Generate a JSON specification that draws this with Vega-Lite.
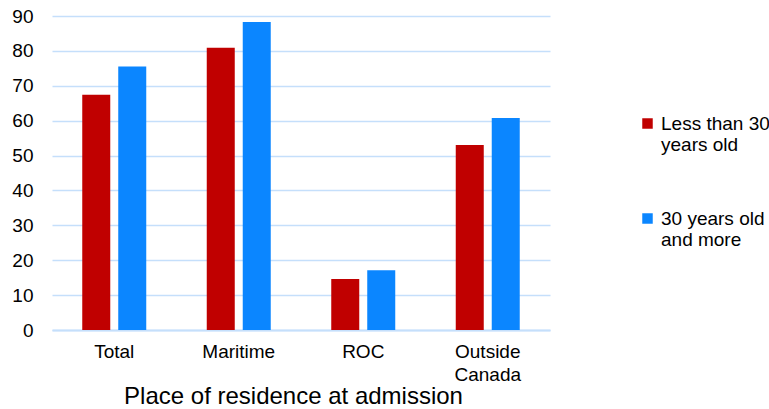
{
  "$schema": "https://vega.github.io/schema/vega-lite/v6.json",
  "width": 498,
  "height": 314,
  "autosize": {"type": "none"},
  "padding": {"left": 52, "top": 16, "right": 219, "bottom": 79},
  "background": "white",
  "config": {
    "font": "Liberation Sans",
    "view": {"stroke": null}
  },
  "data": {
    "values": [
      {"place": "Total", "age": "Less than 30 years old", "pct": 67.4},
      {"place": "Total", "age": "30 years old and more", "pct": 75.5},
      {"place": "Maritime", "age": "Less than 30 years old", "pct": 80.9},
      {"place": "Maritime", "age": "30 years old and more", "pct": 88.3},
      {"place": "ROC", "age": "Less than 30 years old", "pct": 14.6},
      {"place": "ROC", "age": "30 years old and more", "pct": 17.1},
      {"place": "Outside Canada", "age": "Less than 30 years old", "pct": 53.0},
      {"place": "Outside Canada", "age": "30 years old and more", "pct": 60.8}
    ]
  },
  "mark": {"type": "bar"},
  "encoding": {
    "x": {
      "field": "place",
      "type": "nominal",
      "sort": ["Total", "Maritime", "ROC", "Outside Canada"],
      "scale": {"paddingInner": 0.486, "paddingOuter": 0.243},
      "axis": {
        "title": "Place of residence at admission",
        "titleFontSize": 24,
        "titleFontWeight": "normal",
        "titleColor": "#000000",
        "titleX": 241,
        "titlePadding": 0,
        "labelAngle": 0,
        "labelFontSize": 19,
        "labelColor": "#000000",
        "labelPadding": 12,
        "labelLineHeight": 23,
        "labelExpr": "datum.label == 'Outside Canada' ? ['Outside', 'Canada'] : datum.label",
        "ticks": false,
        "domainColor": "#C5DFFB",
        "domainWidth": 2
      }
    },
    "xOffset": {
      "field": "age",
      "type": "nominal",
      "sort": ["Less than 30 years old", "30 years old and more"],
      "scale": {"paddingInner": 0.222, "paddingOuter": 0}
    },
    "y": {
      "field": "pct",
      "type": "quantitative",
      "scale": {"domain": [0, 90], "nice": false},
      "axis": {
        "title": null,
        "values": [0, 10, 20, 30, 40, 50, 60, 70, 80, 90],
        "labelFontSize": 19,
        "labelColor": "#000000",
        "labelPadding": 19,
        "ticks": false,
        "domain": false,
        "gridColor": "#C5DFFB",
        "gridWidth": 1.5
      }
    },
    "color": {
      "field": "age",
      "type": "nominal",
      "sort": ["Less than 30 years old", "30 years old and more"],
      "scale": {"range": ["#C00000", "#0B86FF"]},
      "legend": {
        "title": null,
        "orient": "none",
        "legendX": 586,
        "legendY": 98,
        "symbolType": "square",
        "symbolSize": 110,
        "symbolStrokeWidth": 0,
        "labelFontSize": 19,
        "labelColor": "#000000",
        "labelLimit": 200,
        "labelOffset": 4,
        "labelLineHeight": 21,
        "rowPadding": 54,
        "labelExpr": "datum.label == 'Less than 30 years old' ? ['Less than 30', 'years old'] : ['30 years old', 'and more']"
      }
    }
  }
}
